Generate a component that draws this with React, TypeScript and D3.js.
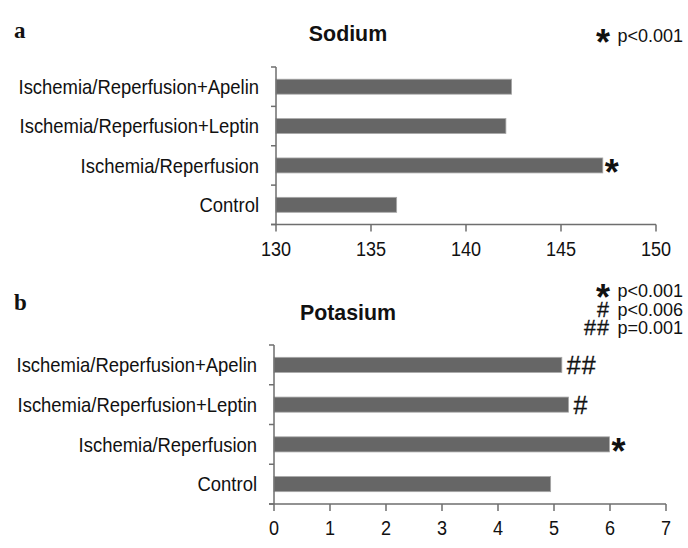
import React from "react";
import * as d3 from "d3";

const categories = [
  "Ischemia/Reperfusion+Apelin",
  "Ischemia/Reperfusion+Leptin",
  "Ischemia/Reperfusion",
  "Control",
];
const sodiumValues = [142.4, 142.1, 147.2, 136.35];
const sodiumMarks = ["", "", "*", ""];
const sodiumTicks = [130, 135, 140, 145, 150];
const sodiumLegend = [{ sym: "*", text: "p<0.001" }];

const potassiumValues = [5.14, 5.26, 5.99, 4.94];
const potassiumMarks = ["##", "#", "*", ""];
const potassiumTicks = [0, 1, 2, 3, 4, 5, 6, 7];
const potassiumLegend = [
  { sym: "*", text: "p<0.001" },
  { sym: "#", text: "p<0.006" },
  { sym: "##", text: "p=0.001" },
];

const FONT = "'Liberation Sans', Arial, Helvetica, sans-serif";
const AXIS = "#6e6e6e";
const BAR = "#666666";

function SText({
  x, y, sx, size, anchor, weight, children,
}: { x: number; y: number; sx: number; size: number; anchor: "start" | "middle" | "end"; weight?: string; children: React.ReactNode }) {
  return (
    <text
      transform={`translate(${x},${y}) scale(${sx},1)`}
      fontFamily={FONT}
      fontSize={size}
      fontWeight={weight || "normal"}
      textAnchor={anchor}
      fill="#111"
    >
      {children}
    </text>
  );
}

type PanelProps = {
  letter: string;
  letterY: number;
  title: string;
  titleY: number;
  values: number[];
  marks: string[];
  ticks: number[];
  domain: [number, number];
  xRange: [number, number];
  yRange: [number, number];
  legend: { sym: string; text: string }[];
  legendY: number;
};

function Symbol({ sym, x, cy, anchor, hashSize }: { sym: string; x: number; cy: number; anchor: "start" | "end"; hashSize: number }) {
  if (sym === "*") {
    return (
      <text x={x} y={cy + 19} fontFamily={FONT} fontWeight="bold" fontSize={36} textAnchor={anchor} fill="#111">
        *
      </text>
    );
  }
  return (
    <text
      x={anchor === "start" ? x + 3 : x}
      y={cy + hashSize * 0.34}
      fontFamily={FONT}
      fontSize={hashSize}
      textAnchor={anchor}
      fill="#111"
      stroke="#111"
      strokeWidth={0.3}
      letterSpacing={1}
    >
      {sym}
    </text>
  );
}

function Panel(p: PanelProps) {
  const x = d3.scaleLinear().domain(p.domain).range(p.xRange);
  const y = d3.scaleBand<string>().domain(categories).range(p.yRange).paddingInner(0.62).paddingOuter(0.31);
  const boundaries = d3.range(categories.length + 1).map((i) => p.yRange[0] + i * (p.yRange[1] - p.yRange[0]) / categories.length);
  const x0 = p.xRange[0];
  const yb = p.yRange[1];
  return (
    <g>
      <text x={14} y={p.letterY} fontFamily="'Liberation Serif', 'Times New Roman', serif" fontWeight="bold" fontSize={23} fill="#111">
        {p.letter}
      </text>
      <SText x={348} y={p.titleY} sx={0.93} size={23} anchor="middle" weight="bold">
        {p.title}
      </SText>
      {p.legend.map((l, i) => (
        <g key={i}>
          <Symbol sym={l.sym} x={610} cy={p.legendY + i * 18.5 - 6} anchor="end" hashSize={21.5} />
          <text x={683} y={p.legendY + i * 18.5} fontFamily={FONT} fontSize={18} textAnchor="end" fill="#111">
            {l.text}
          </text>
        </g>
      ))}
      {categories.map((c, i) => (
        <g key={c}>
          <rect
            x={x(p.domain[0])}
            y={y(c)!}
            width={x(p.values[i]) - x(p.domain[0])}
            height={y.bandwidth()}
            fill={BAR}
            stroke="#a8a8a8"
            strokeWidth={0.8}
          />
          <SText x={x0 - 17} y={y(c)! + y.bandwidth() / 2 + 7.3} sx={0.9} size={20.5} anchor="end">
            {c}
          </SText>
          {p.marks[i] && (
            <Symbol sym={p.marks[i]} x={x(p.values[i]) + 2} cy={y(c)! + y.bandwidth() / 2 + 1} anchor="start" hashSize={25} />
          )}
        </g>
      ))}
      <line x1={x0} x2={x0} y1={p.yRange[0]} y2={yb} stroke={AXIS} strokeWidth={1.5} />
      {boundaries.map((b, i) => (
        <line key={i} x1={x0 - 5} x2={x0} y1={b} y2={b} stroke={AXIS} strokeWidth={1.5} />
      ))}
      <line x1={x0 - 5} x2={p.xRange[1]} y1={yb} y2={yb} stroke={AXIS} strokeWidth={1.5} />
      {p.ticks.map((t) => (
        <g key={t}>
          <line x1={x(t)} x2={x(t)} y1={yb} y2={yb + 7} stroke={AXIS} strokeWidth={1.5} />
          <SText x={x(t)} y={yb + 31} sx={0.86} size={21} anchor="middle">
            {t}
          </SText>
        </g>
      ))}
    </g>
  );
}

export default function App() {
  return (
    <svg width={688} height={548} style={{ position: "absolute", left: 0, top: 0, background: "#fff" }}>
      <rect width={688} height={548} fill="#fff" />
      <Panel
        letter="a"
        letterY={38}
        title="Sodium"
        titleY={41}
        values={sodiumValues}
        marks={sodiumMarks}
        ticks={sodiumTicks}
        domain={[130, 150]}
        xRange={[276, 656]}
        yRange={[67, 224.5]}
        legend={sodiumLegend}
        legendY={42}
      />
      <Panel
        letter="b"
        letterY={310}
        title="Potasium"
        titleY={320}
        values={potassiumValues}
        marks={potassiumMarks}
        ticks={potassiumTicks}
        domain={[0, 7]}
        xRange={[274, 666]}
        yRange={[345, 504]}
        legend={potassiumLegend}
        legendY={297}
      />
    </svg>
  );
}
